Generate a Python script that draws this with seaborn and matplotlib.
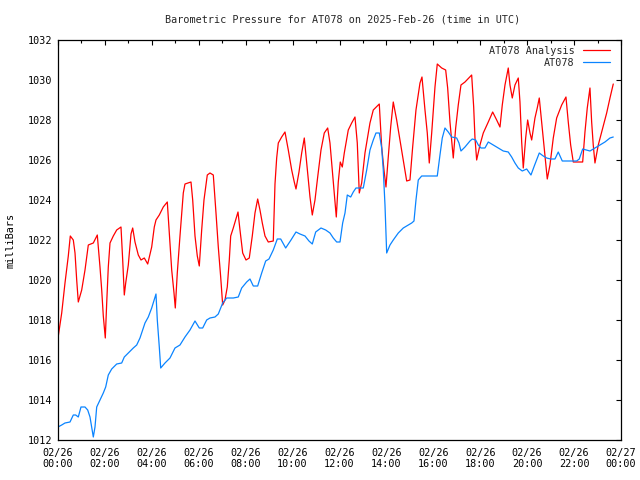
import pandas as pd
import numpy as np
import matplotlib
matplotlib.use("Agg")
import matplotlib.pyplot as plt
import seaborn as sns

# %% Data (hours after 2025-02-26 00:00 UTC, pressure in mbar)
analysis_hours = [
    0.0, 0.158, 0.298, 0.439, 0.524, 0.652, 0.725, 0.797, 0.865, 1.01,
    1.151, 1.292, 1.505, 1.675, 1.79, 1.863, 1.931, 2.016, 2.076, 2.144,
    2.217, 2.357, 2.502, 2.685, 2.758, 2.826, 2.886, 2.997, 3.112, 3.184,
    3.282, 3.423, 3.538, 3.679, 3.824, 3.994, 4.105, 4.177, 4.318, 4.488,
    4.659, 4.774, 4.847, 4.945, 5.0, 5.085, 5.2, 5.341, 5.413, 5.669,
    5.742, 5.84, 5.938, 6.023, 6.125, 6.223, 6.364, 6.479, 6.62, 6.735,
    6.833, 6.935, 7.02, 7.118, 7.216, 7.302, 7.362, 7.472, 7.673, 7.758,
    7.873, 8.014, 8.154, 8.282, 8.397, 8.512, 8.61, 8.709, 8.824, 8.964,
    9.177, 9.25, 9.322, 9.391, 9.535, 9.676, 9.817, 9.962, 10.072, 10.145,
    10.273, 10.388, 10.499, 10.601, 10.742, 10.84, 10.955, 11.07, 11.211, 11.351,
    11.496, 11.594, 11.692, 11.777, 11.863, 11.948, 12.033, 12.119, 12.204, 12.276,
    12.374, 12.519, 12.66, 12.758, 12.8, 12.843, 12.945, 13.086, 13.299, 13.44,
    13.696, 13.798, 13.896, 13.981, 14.079, 14.182, 14.292, 14.437, 14.578, 14.719,
    14.864, 15.004, 15.119, 15.26, 15.431, 15.516, 15.644, 15.742, 15.827, 15.93,
    16.07, 16.168, 16.356, 16.526, 16.611, 16.709, 16.85, 16.952, 17.063, 17.178,
    17.349, 17.634, 17.72, 17.775, 17.847, 17.988, 18.129, 18.342, 18.529, 18.7,
    18.841, 18.939, 19.054, 19.194, 19.267, 19.365, 19.48, 19.621, 19.693, 19.766,
    19.834, 19.936, 20.021, 20.12, 20.192, 20.332, 20.43, 20.516, 20.618, 20.716,
    20.857, 20.972, 21.113, 21.257, 21.471, 21.654, 21.752, 21.854, 21.965, 22.366,
    22.464, 22.562, 22.677, 22.749, 22.817, 22.89, 23.031, 23.176, 23.389, 23.53,
    23.67,
]
analysis_mbar = [
    1017.1, 1018.35, 1019.85, 1021.2, 1022.2, 1022.0, 1021.35, 1020.0, 1018.9, 1019.5,
    1020.5, 1021.75, 1021.85, 1022.25, 1020.65, 1019.5, 1018.2, 1017.1, 1018.85, 1020.65,
    1021.85, 1022.2, 1022.5, 1022.65, 1021.0, 1019.25, 1019.85, 1020.75, 1022.3, 1022.6,
    1021.9, 1021.25, 1021.0, 1021.1, 1020.8, 1021.65, 1022.65, 1023.0, 1023.25, 1023.65,
    1023.9, 1021.85, 1020.5, 1019.35, 1018.6, 1020.35, 1022.2, 1024.35, 1024.8, 1024.9,
    1024.0, 1022.2, 1021.2, 1020.7, 1022.5, 1024.0, 1025.25, 1025.35, 1025.25, 1023.35,
    1021.65, 1020.15, 1018.75, 1019.0, 1019.65, 1021.0, 1022.2, 1022.6, 1023.4, 1022.5,
    1021.35, 1021.0, 1021.1, 1022.2, 1023.35, 1024.05, 1023.5, 1022.85, 1022.2, 1021.9,
    1021.95, 1024.8, 1026.1, 1026.85, 1027.15, 1027.4, 1026.5, 1025.5, 1024.9, 1024.55,
    1025.4, 1026.35, 1027.1, 1025.85, 1024.15, 1023.25, 1024.0, 1025.15, 1026.5, 1027.35,
    1027.6, 1026.85, 1025.5, 1024.35, 1023.15, 1024.9, 1025.9, 1025.65, 1026.35, 1026.85,
    1027.5, 1027.85, 1028.15, 1026.85, 1025.65, 1024.35, 1024.85, 1026.35, 1027.85, 1028.5,
    1028.8, 1026.65, 1025.5, 1024.65, 1026.15, 1027.65, 1028.9, 1028.0, 1027.0, 1026.0,
    1024.95, 1025.0, 1026.65, 1028.5, 1029.85, 1030.15, 1028.5, 1027.35, 1025.85, 1027.35,
    1029.65, 1030.8, 1030.6, 1030.5, 1029.6, 1027.9, 1026.1, 1027.6, 1028.75, 1029.75,
    1029.9, 1030.25, 1028.65, 1027.1, 1026.0, 1026.75, 1027.35, 1027.9, 1028.4, 1028.0,
    1027.65, 1028.75, 1029.75, 1030.6, 1029.75, 1029.1, 1029.75, 1030.1, 1028.9, 1026.9,
    1025.6, 1027.1, 1028.0, 1027.35, 1027.0, 1028.1, 1028.6, 1029.1, 1027.9, 1026.75,
    1025.05, 1025.75, 1027.1, 1028.1, 1028.75, 1029.15, 1027.9, 1026.75, 1025.9, 1025.9,
    1027.4, 1028.6, 1029.6, 1027.9, 1026.75, 1025.85, 1026.75, 1027.4, 1028.35, 1029.1,
    1029.8,
]

obs_hours = [
    0.0, 0.158, 0.298, 0.512, 0.652, 0.754, 0.865, 0.98, 1.151, 1.266,
    1.364, 1.436, 1.505, 1.577, 1.65, 1.79, 1.931, 2.033, 2.144, 2.289,
    2.502, 2.715, 2.826, 2.997, 3.21, 3.355, 3.495, 3.708, 3.849, 3.994,
    4.177, 4.233, 4.318, 4.378, 4.561, 4.774, 4.987, 5.2, 5.413, 5.627,
    5.84, 6.023, 6.168, 6.338, 6.479, 6.692, 6.833, 7.02, 7.191, 7.472,
    7.685, 7.83, 8.043, 8.184, 8.325, 8.512, 8.683, 8.853, 8.994, 9.177,
    9.348, 9.493, 9.706, 9.932, 10.145, 10.315, 10.529, 10.699, 10.84, 10.985,
    11.211, 11.411, 11.594, 11.735, 11.88, 12.021, 12.135, 12.234, 12.332, 12.477,
    12.587, 12.702, 13.014, 13.159, 13.299, 13.44, 13.555, 13.696, 13.798, 13.866,
    13.939, 14.011, 14.152, 14.292, 14.506, 14.719, 14.932, 15.077, 15.175, 15.26,
    15.358, 15.503, 16.168, 16.283, 16.381, 16.496, 16.637, 16.781, 16.995, 17.093,
    17.178, 17.349, 17.562, 17.66, 17.805, 17.916, 18.031, 18.201, 18.342, 18.555,
    18.768, 18.981, 19.194, 19.339, 19.48, 19.621, 19.791, 19.979, 20.162, 20.303,
    20.516, 20.686, 20.831, 21.001, 21.185, 21.325, 21.496, 22.11, 22.221, 22.366,
    22.677, 22.89, 23.103, 23.316, 23.53, 23.67,
]
obs_mbar = [
    1012.65, 1012.75, 1012.85, 1012.9, 1013.25, 1013.25, 1013.15, 1013.65, 1013.65, 1013.5,
    1013.15, 1012.65, 1012.15, 1012.65, 1013.65, 1014.0, 1014.35, 1014.65, 1015.25, 1015.55,
    1015.8, 1015.85, 1016.15, 1016.35, 1016.6, 1016.75, 1017.1, 1017.85, 1018.15, 1018.6,
    1019.3, 1018.0, 1016.65, 1015.6, 1015.85, 1016.1, 1016.6, 1016.75, 1017.15, 1017.5,
    1017.95, 1017.6, 1017.6, 1018.0, 1018.1, 1018.15, 1018.3, 1018.85, 1019.1, 1019.1,
    1019.15, 1019.6, 1019.9, 1020.05, 1019.7, 1019.7, 1020.35, 1020.95, 1021.05, 1021.5,
    1022.05, 1022.05, 1021.6, 1022.0, 1022.4, 1022.3, 1022.2, 1021.95, 1021.8, 1022.4,
    1022.6, 1022.5, 1022.35, 1022.1, 1021.9, 1021.9, 1022.85, 1023.35, 1024.25, 1024.15,
    1024.4, 1024.6, 1024.6, 1025.5, 1026.5, 1027.0, 1027.35, 1027.35, 1026.6, 1025.5,
    1023.75, 1021.35, 1021.75, 1022.0, 1022.35, 1022.6, 1022.75, 1022.85, 1022.95, 1024.0,
    1025.0, 1025.2, 1025.2, 1026.25, 1027.1, 1027.6, 1027.4, 1027.15, 1027.1, 1026.85,
    1026.45, 1026.65, 1026.95, 1027.05, 1027.0, 1026.75, 1026.6, 1026.6, 1026.9, 1026.75,
    1026.6, 1026.45, 1026.4, 1026.15, 1025.85, 1025.6, 1025.45, 1025.55, 1025.25, 1025.7,
    1026.35, 1026.2, 1026.1, 1026.05, 1026.05, 1026.4, 1025.95, 1025.95, 1026.05, 1026.55,
    1026.45, 1026.6, 1026.75, 1026.9, 1027.1, 1027.15,
]

tick_hours = [0, 2, 4, 6, 8, 10, 12, 14, 16, 18, 20, 22, 24]
tick_labels = [
    "02/26\n00:00", "02/26\n02:00", "02/26\n04:00", "02/26\n06:00",
    "02/26\n08:00", "02/26\n10:00", "02/26\n12:00", "02/26\n14:00",
    "02/26\n16:00", "02/26\n18:00", "02/26\n20:00", "02/26\n22:00",
    "02/27\n00:00",
]

df = pd.concat([
    pd.DataFrame({"hour": analysis_hours, "mbar": analysis_mbar, "series": "AT078 Analysis"}),
    pd.DataFrame({"hour": obs_hours, "mbar": obs_mbar, "series": "AT078"}),
])

# %% Plot
sns.set_theme(style="white")
plt.rcParams["font.family"] = ["DejaVu Sans Mono"]
plt.rcParams["font.size"] = 7.3

fig, ax = plt.subplots(figsize=(6.4, 4.8), dpi=100)
fig.subplots_adjust(left=58 / 640, right=621 / 640, bottom=40 / 480, top=440 / 480)

sns.lineplot(data=df, x="hour", y="mbar", hue="series", estimator=None,
             palette={"AT078 Analysis": "#ff0000", "AT078": "#0a84ff"},
             linewidth=0.9, ax=ax)

ax.set_xlim(0, 24)
ax.set_ylim(1012, 1032)
ax.set_xticks(tick_hours)
ax.set_xticklabels(tick_labels, linespacing=1.05)
ax.set_xticks(np.arange(0, 25, 1), minor=True)
ax.set_yticks(np.arange(1012, 1033, 2))
ax.tick_params(which="both", direction="in", top=True, right=True,
               color="black", width=0.8, labelsize=7.3, labelcolor="black")
ax.tick_params(which="major", length=3.6, pad=4)
ax.tick_params(which="minor", length=2.0)
ax.tick_params(axis="x", which="major", pad=6)

for side in ax.spines.values():
    side.set_color("black")
    side.set_linewidth(0.9)

ax.set_xlabel("")
ax.set_ylabel("milliBars", fontsize=7.3, color="black")
ax.yaxis.set_label_coords(-0.076, 0.5)

fig.text(0.535, 1 - 19 / 480, "Barometric Pressure for AT078 on 2025-Feb-26 (time in UTC)",
         ha="center", va="center", fontsize=7.3)

# legend: text first, sample line after, pushed in a little from the corner
ax.legend(loc="upper right", bbox_to_anchor=(1 - 8 / 563, 1 - 3 / 400),
          frameon=False, markerfirst=False, fontsize=7.3,
          handlelength=2.7, handletextpad=0.8, labelspacing=0.15,
          borderaxespad=0.0, borderpad=0.3)

fig.savefig("out.png", dpi=100, facecolor="white")
